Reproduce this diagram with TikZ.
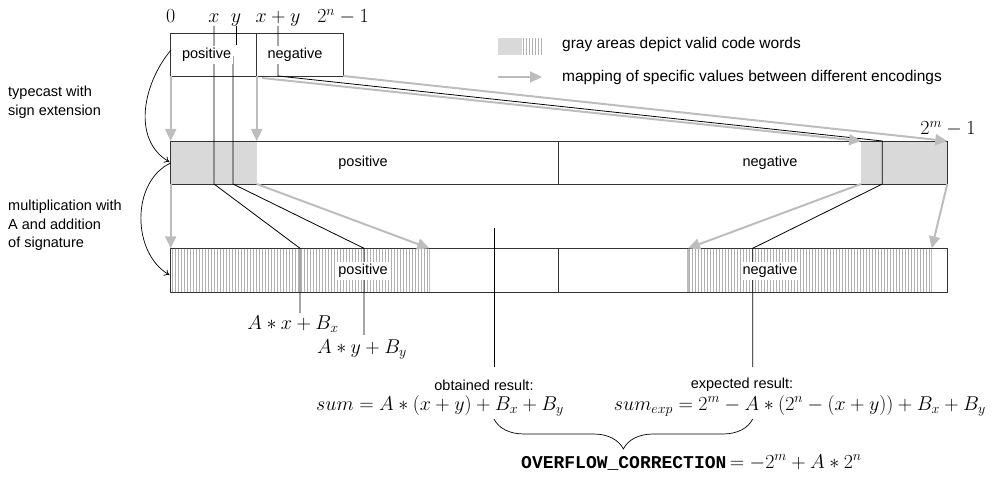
\RequirePackage{fix-cm}
\documentclass[tikz,border=0pt]{standalone}
\usepackage{fontspec}
\setmainfont{Liberation Sans}
\newfontfamily\monob{Liberation Mono}
\usetikzlibrary{arrows.meta,decorations.pathreplacing}
\definecolor{lgray}{HTML}{D9D9D9}
\definecolor{agray}{HTML}{BDBDBD}
\definecolor{hgray}{HTML}{B0B0B0}
\definecolor{bord}{HTML}{333333}
\begin{document}
\begin{tikzpicture}[x=1pt,y=-1pt,
  bar/.style={draw=bord,line width=0.9pt},
  garrow/.style={draw=agray,line width=2pt,-{Triangle[length=12pt,width=11pt]}},
  bline/.style={draw=black,line width=0.8pt},
  curv/.style={draw=black,line width=0.7pt,-{To[length=5pt,width=7pt]}},
  txt/.style={font=\fontsize{14.5}{18.5}\selectfont,inner sep=0pt},
  legtxt/.style={font=\fontsize{15.5}{18.5}\selectfont,inner sep=0pt},
  mth/.style={font=\fontsize{20}{22}\selectfont,inner sep=0pt},
  wbox/.style={txt,fill=white,inner sep=2pt},
  hatch/.style={draw=hgray,line width=0.45pt},
  gedge/.style={draw=agray,line width=1.5pt}]
\useasboundingbox (0,0) rectangle (993,478);

% ---- key points
\coordinate (tbTL) at (170.7,33.3);
\coordinate (tbBR) at (343.3,76);
\coordinate (tbD1) at (256.7,33.3);
\coordinate (tbD2) at (256.7,76);
\coordinate (tbBL) at (170.7,76);
\coordinate (tbNeg) at (262,78);
\coordinate (mbTL) at (170.7,141);
\coordinate (mbBR) at (947.3,184);
\coordinate (mbBL) at (170.7,184);
\coordinate (mbTR) at (947.3,141);
\coordinate (mbG1T) at (256.7,141);
\coordinate (mbG1B) at (256.7,184);
\coordinate (mbG2T) at (861,141);
\coordinate (mbG2B) at (861,184);
\coordinate (mbMidT) at (558,141);
\coordinate (mbMidB) at (558,184);
\coordinate (bbTL) at (170.7,248.3);
\coordinate (bbBR) at (947.3,292.3);
\coordinate (bbMidT) at (558,248.3);
\coordinate (bbMidB) at (558,292.3);
\coordinate (bbH1T) at (429.3,248.3);
\coordinate (bbH1B) at (429.3,292.3);
\coordinate (bbH2T) at (688,248.3);
\coordinate (bbH2B) at (688,292.3);
\coordinate (bbH3T) at (931.7,248.3);
\coordinate (bbH3B) at (931.7,292.3);

% ---- gray areas in middle bar
\fill[lgray] (mbTL) rectangle (mbG1B);
\fill[lgray] (mbG2T) rectangle (mbBR);

% ---- hatching in bottom bar
\foreach \i in {0,...,85} \draw[hatch] (172.2+3*\i,248.3) -- ++(0,44);
\foreach \i in {0,...,80} \draw[hatch] (689.5+3*\i,248.3) -- ++(0,44);
\draw[gedge] (bbH1T) -- (bbH1B);
\draw[gedge] (bbH2T) -- (bbH2B);
\draw[gedge] (bbH3T) -- (bbH3B);

% ---- bars
\draw[bar] (tbTL) rectangle (tbBR);
\draw[bar] (tbD1) -- (tbD2);
\draw[bar] (mbTL) rectangle (mbBR);
\draw[bar] (mbMidT) -- (mbMidB);
\draw[bar] (bbTL) rectangle (bbBR);
\draw[bar] (bbMidT) -- (bbMidB);

% ---- black mapping lines
\coordinate (xT) at (214,26);
\coordinate (xM) at (214,184);
\coordinate (xB) at (300,248.3);
\coordinate (xE) at (300,313);
\draw[bline] (xT) -- (xM) -- (xB) -- (xE);
\coordinate (yT) at (236,26);
\coordinate (yT2) at (236,45);
\coordinate (yU) at (233,56);
\coordinate (yM) at (233,184);
\coordinate (yB) at (364,248.3);
\coordinate (yE) at (364,335);
\draw[bline] (yT) -- (yT2);
\draw[bline] (yU) -- (yM) -- (yB) -- (yE);
\coordinate (sT) at (278,26);
\coordinate (sB) at (278,76);
\coordinate (sM1) at (882.3,141);
\coordinate (sM2) at (882.3,184);
\coordinate (sBB) at (752.7,248.3);
\coordinate (sE) at (752.7,367);
\draw[bline] (sT) -- (sB) -- (sM1) -- (sM2) -- (sBB) -- (sE);
\coordinate (oT) at (494,227.7);
\coordinate (oE) at (494,367);
\draw[bline] (oT) -- (oE);

% ---- gray arrows
\draw[garrow] (tbBL) -- (mbTL);
\draw[garrow] (tbD2) -- (mbG1T);
\draw[garrow] (mbBL) -- (bbTL);
\draw[garrow] (mbG1B) -- (bbH1T);
\draw[garrow] (tbNeg) -- (mbG2T);
\draw[garrow] (tbBR) -- (mbTR);
\draw[garrow] (mbG2B) -- (bbH2T);
\draw[garrow] (mbBR) -- (bbH3T);

% ---- curved arrows
\coordinate (c0) at (171,50);
\coordinate (c1) at (169.5,162);
\coordinate (c1s) at (170.7,163);
\coordinate (c2) at (169.5,275);
\draw[curv] (c0) to[out=230,in=150] (c1);
\draw[curv] (c1s) to[out=205,in=150] (c2);

% ---- labels in bars
\node[wbox] (tpos) at (206.7,55) {positive};
\node[wbox] (tneg) at (295,55) {negative};
\node[txt] (mpos) at (363,163) {positive};
\node[txt] (mneg) at (770,163) {negative};
\node[wbox] (bpos) at (363,271) {positive};
\node[wbox] (bneg) at (770,271) {negative};

% ---- top math labels
\node[mth,anchor=base] (l0) at (170.7,23) {$0$};
\node[mth,anchor=base] (lx) at (214,23) {$x$};
\node[mth,anchor=base] (ly) at (236,23) {$y$};
\node[mth,anchor=base] (lxy) at (278,23) {$x+y$};
\node[mth,anchor=base] (l2n) at (343,23) {$2^n-1$};
\node[mth,anchor=base] (l2m) at (948,135) {$2^m-1$};

% ---- legend
\coordinate (lgA) at (498,38);
\coordinate (lgB) at (522,55);
\fill[lgray] (lgA) rectangle (lgB);
\foreach \i in {0,...,6} \draw[hatch] (523.5+3*\i,38) -- ++(0,17);
\coordinate (laA) at (498,77);
\coordinate (laB) at (542,77);
\draw[garrow] (laA) -- (laB);
\node[legtxt,anchor=west] (leg1) at (562,44) {gray areas depict valid code words};
\node[legtxt,anchor=west] (leg2) at (562,77) {mapping of specific values between different encodings};

% ---- left side texts
\node[txt,anchor=north west,align=left] (tc) at (8,86) {typecast with\\sign extension};
\node[txt,anchor=north west,align=left] (mu) at (8,200) {multiplication with\\A and addition\\of signature};

% ---- bottom labels
\node[mth] (ax) at (293,324) {$A*x+B_x$};
\node[mth] (ay) at (362,350) {$A*y+B_y$};
\node[txt] (obt) at (484,385) {obtained result:};
\node[txt] (exp) at (742,385) {expected result:};
\node[mth,anchor=base west] (f1) at (316,410) {$sum = A*(x+y)+B_x+B_y$};
\node[mth,anchor=base east] (f2) at (986,410) {$sum_{exp} = 2^m - A*(2^n-(x+y))+B_x+B_y$};

% ---- brace
\coordinate (brL) at (494,419);
\coordinate (brR) at (752.7,419);
\draw[line width=0.7pt,decorate,decoration={brace,mirror,amplitude=30pt}] (brL) -- (brR);
\node[font=\fontsize{18}{20}\selectfont,inner sep=0pt,anchor=base west] (ovf) at (521,468) {{\monob\bfseries OVERFLOW\_CORRECTION}{\fontsize{20}{22}\selectfont$\,= -2^m + A*2^n$}};
\end{tikzpicture}
\end{document}
